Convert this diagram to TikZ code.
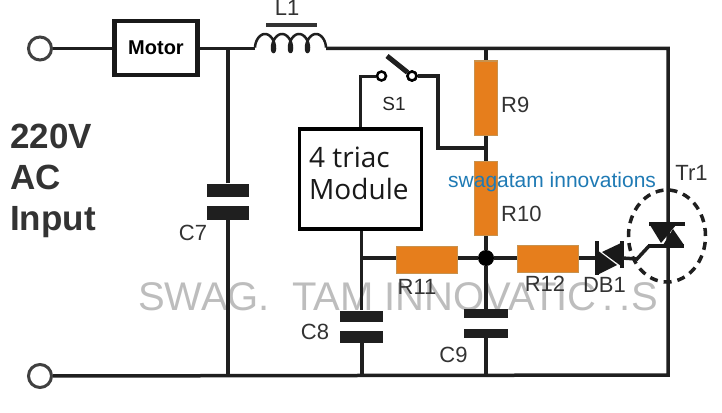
\documentclass[tikz,border=0pt]{standalone}
\usepackage{fontspec}
\setmainfont{Liberation Sans}
\newfontfamily\modulefont{Open Sans}
\usetikzlibrary{positioning,shapes.geometric}
\definecolor{resorange}{HTML}{E67E1C}
\definecolor{resedge}{HTML}{C8924E}
\definecolor{labelgray}{HTML}{333333}
\definecolor{markblue}{HTML}{1F7AB4}
\definecolor{ghostgray}{HTML}{BDBDBD}
\tikzset{
    wire/.style={draw=black!88,line width=3.5pt},
    terminal/.style={circle,draw=black!75,line width=3pt,fill=white,minimum size=23pt,inner sep=0pt},
    contact/.style={circle,draw=black,line width=2.5pt,fill=white,minimum size=9pt,inner sep=0pt},
    resv/.style={rectangle,draw=resedge,line width=1pt,fill=resorange,minimum width=23pt,minimum height=74pt,inner sep=0pt},
    resh/.style={rectangle,draw=resedge,line width=1pt,fill=resorange,minimum width=61pt,minimum height=27pt,inner sep=0pt},
    plate/.style={rectangle,fill=black!88,minimum width=43pt,minimum height=10pt,inner sep=0pt},
    lbl/.style={font=\fontsize{22}{24}\selectfont,text=labelgray,inner sep=0pt},
    ghost/.style={font=\fontsize{40}{44}\selectfont,text=ghostgray,inner sep=0pt,anchor=base west}
}

\begin{document}
\begin{tikzpicture}[x=1pt,y=-1pt]

    \useasboundingbox (0,0) rectangle (722,412);

    \node[ghost] (ghost 1) at (138,310) {SWAG.};
    \node[ghost] (ghost 2) at (292,310) {TAM INNOVATIC};
    \node[ghost] (ghost 3) at (602,310) {.\,.S};

    \node[terminal] (in top) at (40,48.5) {};
    \node[terminal] (in bot) at (40,376) {};
    \node[rectangle,draw=black!90,line width=4.5pt,minimum width=83pt,minimum height=54pt,inner sep=0pt,font=\bfseries\fontsize{20}{22}\selectfont] (motor) at (156,48) {\raisebox{-3pt}{Motor}};

    \coordinate (L1 in) at (255,48.5);
    \coordinate (L1 out) at (326,48.5);
    \coordinate (corner) at (668,48.5);
    \coordinate (gnd) at (668,375);

    \draw[wire,line width=2.5pt] (in top) -- (in top -| motor.west);
    \draw[wire] (motor.east |- L1 in) -- (L1 in);
    \draw[wire,line width=2.5pt] plot[smooth,domain=60:1380,samples=130] ({256.5+\x/360*17-5*sin(\x)},{43+9*cos(\x)});
    \draw[wire] (L1 out) -- (corner) -- (gnd) -- (in bot);
    \draw[line width=4pt,black!80] (266,25.5) -- (317,25.5);
    \node[lbl] (L1) at (287,7.9) {L1};

    \node[plate,minimum width=42pt,minimum height=13pt] (C7 a) at (228,190) {};
    \node[plate,minimum width=42pt,minimum height=14pt] (C7 b) at (228,213) {};
    \draw[wire,line width=4pt] (C7 a) -- (C7 a |- L1 in);
    \draw[wire,line width=4pt] (C7 b) -- (C7 b |- gnd);
    \node[lbl] (C7) at (193,232.5) {C7};

    \node[rectangle,draw=black,line width=3.5pt,fill=white,minimum width=122pt,minimum height=100pt,inner sep=0pt] (module) at (360.5,179) {};
    \node[lbl,anchor=west,align=left,text=black!90,font=\modulefont\fontsize{28}{32}\selectfont] (module text) at (309,173) {4 triac\\Module};

    \node[contact] (S1 a) at (381.5,76) {};
    \node[contact] (S1 b) at (412,76) {};
    \coordinate (arm end) at (387,56);
    \coordinate (S1 drop) at (438,76);
    \coordinate (R9 tap) at (486,148);
    \draw[wire,line width=3pt] (module.north -| 360,0) |- (S1 a);
    \draw[wire] (S1 b) -- (S1 drop) |- (R9 tap);
    \draw[line width=5pt,black!88] (arm end) -- (S1 b);
    \node[contact] at (S1 b) {};
    \node[lbl,font=\fontsize{19}{21}\selectfont,text=black!85] (S1) at (394,103.5) {S1};

    \node[circle,fill=black,minimum size=16pt,inner sep=0pt] (junction) at (486,258) {};
    \node[plate,minimum width=44pt,minimum height=9pt] (C9 a) at (486,313.5) {};
    \node[plate,minimum width=44pt,minimum height=9pt] (C9 b) at (486,333.5) {};
    \node[plate,minimum height=11pt] (C8 a) at (361.5,316) {};
    \node[plate,minimum height=12pt] (C8 b) at (361.5,337) {};

    \draw[wire] (R9 tap |- corner) -- (junction);
    \draw[wire,line width=4pt] (junction) -- (C9 a);
    \draw[wire,line width=4pt] (C9 b) -- (C9 b |- gnd);
    \draw[wire] (module.south -| C8 a) -- (C8 a);
    \draw[wire,line width=4pt] (C8 b) -- (C8 b |- gnd);
    \draw[wire] (C8 a |- junction) -- (junction);
    \coordinate (diode in) at (596,258);
    \draw[wire] (junction) -- (diode in);

    \node[resv] (R9) at (486,98) {};
    \node[resv] (R10) at (486,198) {};
    \node[resh] (R11) at (427,260) {};
    \node[resh] (R12) at (548,258.5) {};
    \node[lbl,right=3pt of R9,yshift=-7pt] (R9 text) {R9};
    \node[lbl,right=3pt of R10,yshift=-16pt] (R10 text) {R10};
    \node[lbl,below=5pt of R11,xshift=-10pt] (R11 text) {R11};
    \node[lbl,below=3pt of R12,xshift=-3pt] (R12 text) {R12};
    \node[lbl] (C8) at (315,331.5) {C8};
    \node[lbl] (C9) at (453.5,354.5) {C9};

    \fill[black!90] (595,241) rectangle (598.5,275);
    \fill[black!90] (620,241) rectangle (623.5,268);
    \fill[black!90] (597,250) -- (617,265) -- (597,275) -- cycle;
    \fill[black!90] (621,243) -- (621,266) -- (602,252) -- cycle;
    \coordinate (diode out) at (622,258);
    \coordinate (gate) at (637,259);
    \coordinate (gate top) at (649,246);
    \draw[wire] (diode out) -- (gate) -- (gate top);

    \fill[black!90] (649,222) rectangle (685,226);
    \fill[black!90] (648,244) rectangle (684,248);
    \fill[black!90] (650,225) -- (676,225) -- (661,243) -- cycle;
    \fill[black!90] (673,229) -- (684,245) -- (663,245) -- cycle;
    \node[ellipse,draw=black!88,line width=3.5pt,dash pattern=on 8pt off 6pt,minimum width=77pt,minimum height=92pt,inner sep=0pt] (Tr1 ring) at (667,236) {};
    \node[lbl] (Tr1) at (691.5,172.5) {Tr1};
    \node[lbl] (DB1) at (604.5,285) {DB1};

    \node[lbl,font=\fontsize{21}{23}\selectfont,text=markblue,anchor=base west] (mark) at (448,187) {swagatam innovations};

    \node[lbl,font=\bfseries\fontsize{35}{41}\selectfont,align=left,anchor=north west,text=black!80] (mains) at (10,124) {220V\\AC\\Input};

\end{tikzpicture}
\end{document}
